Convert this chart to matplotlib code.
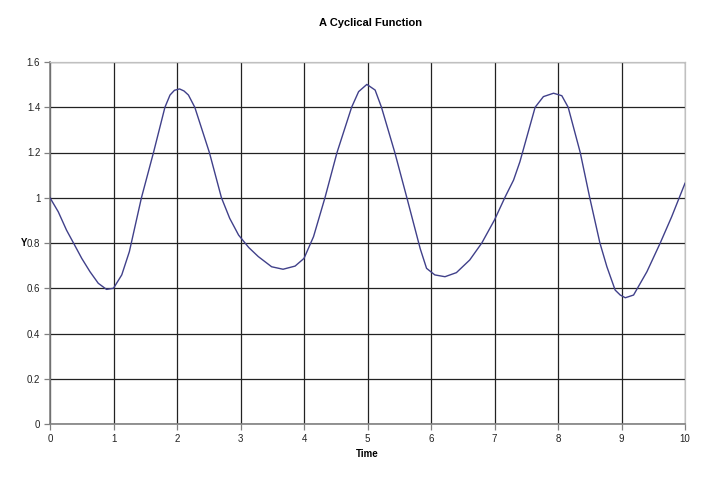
import matplotlib
matplotlib.use("Agg")
import matplotlib.pyplot as plt

# values
time = [0, 0.13, 0.26, 0.37, 0.50, 0.63, 0.76, 0.89, 1.0, 1.13, 1.25, 1.44,
        1.63, 1.81, 1.89, 1.96, 2.04, 2.11, 2.18, 2.28, 2.51, 2.70, 2.83, 2.97,
        3.13, 3.28, 3.49, 3.67, 3.86, 4.0, 4.15, 4.33, 4.52, 4.75, 4.86, 4.99,
        5.12, 5.22, 5.43, 5.62, 5.83, 5.93, 6.06, 6.22, 6.40, 6.61, 6.80, 7.0,
        7.17, 7.30, 7.40, 7.64, 7.77, 7.93, 8.06, 8.16, 8.35, 8.50, 8.66, 8.77,
        8.90, 8.98, 9.06, 9.19, 9.40, 9.61, 9.79, 10.0]
y_vals = [1.0, 0.938, 0.857, 0.80, 0.732, 0.673, 0.622, 0.595, 0.60, 0.659, 0.762, 1.0,
          1.2, 1.4, 1.454, 1.475, 1.481, 1.472, 1.454, 1.4, 1.2, 1.0, 0.909, 0.835,
          0.78, 0.74, 0.695, 0.684, 0.698, 0.732, 0.828, 1.0, 1.2, 1.4, 1.469, 1.501,
          1.476, 1.4, 1.2, 1.0, 0.775, 0.688, 0.659, 0.651, 0.669, 0.725, 0.80, 0.902,
          1.005, 1.078, 1.159, 1.4, 1.447, 1.462, 1.451, 1.4, 1.2, 1.0, 0.80, 0.695,
          0.592, 0.570, 0.558, 0.570, 0.673, 0.80, 0.916, 1.064]
x_ticks = list(range(0, 11))
y_ticks = [0, 0.2, 0.4, 0.6, 0.8, 1, 1.2, 1.4, 1.6]
y_labels = ["0", "0.2", "0.4", "0.6", "0.8", "1", "1.2", "1.4", "1.6"]

plt.rcParams["font.family"] = ["Liberation Sans", "DejaVu Sans"]

fig = plt.figure(figsize=(7.12, 4.82), dpi=100)
ax = fig.add_axes([50 / 712, 58 / 482, 635 / 712, 362 / 482])

ax.plot(time, y_vals, color="#40408a", lw=1.0, zorder=3)

ax.set_xlim(0, 10)
ax.set_ylim(0, 1.6)
ax.set_xticks(x_ticks)
ax.set_yticks(y_ticks)
ax.set_yticklabels(y_labels)
ax.grid(True, color="#222222", lw=0.9)
ax.tick_params(direction="out", length=4, width=0.9, color="#808080",
               labelsize=7, labelcolor="#222222", pad=3)
for side in ("top", "right"):
    ax.spines[side].set_color("#c0c0c0")
    ax.spines[side].set_linewidth(0.9)
for side in ("left", "bottom"):
    ax.spines[side].set_color("#808080")
    ax.spines[side].set_linewidth(1.2)

ax.set_xlabel("Time", fontsize=7, fontweight="bold", labelpad=4)
ax.set_ylabel("Y", fontsize=7, fontweight="bold", rotation=0, labelpad=2,
              va="center")
fig.suptitle("A Cyclical Function", x=0.52, y=0.962, fontsize=8,
             fontweight="bold")

fig.savefig("out.png", dpi=100)
